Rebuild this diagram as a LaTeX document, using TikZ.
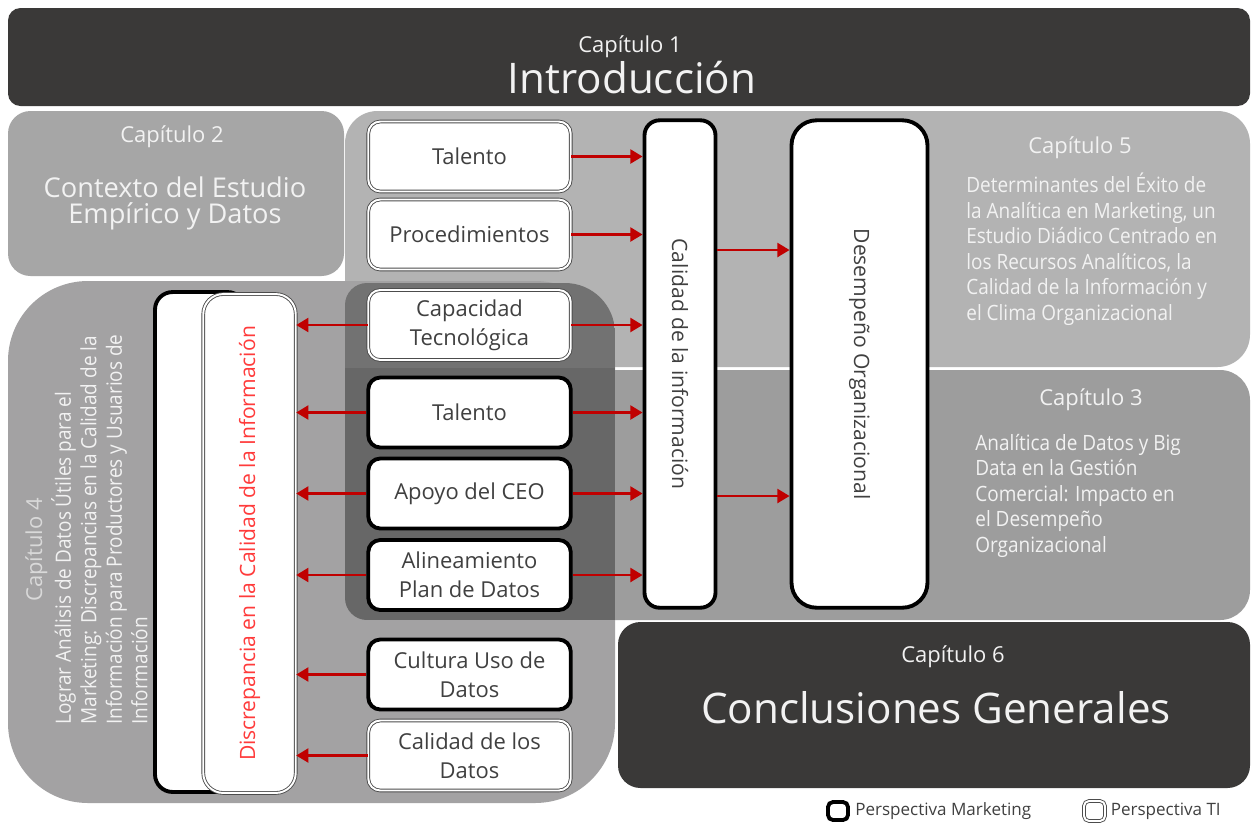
\documentclass[tikz,border=0pt]{standalone}
\usepackage{fontspec}
\setmainfont{Open Sans}
\newfontfamily\estrecha[FakeStretch=0.9]{Open Sans}
\usepackage{tikz}
\usetikzlibrary{arrows,arrows.meta,shapes,positioning}
\definecolor{oscuro}{HTML}{3A3938}
\definecolor{gris2}{HTML}{A6A6A6}
\definecolor{gris3}{HTML}{9D9D9D}
\definecolor{gris4}{HTML}{A3A2A3}
\definecolor{gris5}{HTML}{B3B3B3}
\definecolor{cruce5}{HTML}{727272}
\definecolor{cruce3}{HTML}{676767}
\definecolor{rojo}{HTML}{C00000}
\definecolor{rojotxt}{HTML}{FF3B3B}
\definecolor{textobox}{HTML}{404040}
\definecolor{claro}{HTML}{F2F2F2}
\definecolor{claro4}{HTML}{D9D9D9}

\begin{document}
\begin{tikzpicture}[x=0.02cm,y=-0.02cm]
                \tikzstyle{every node}+=[inner sep=0pt]
                \tikzstyle{caja}=[rectangle, rounded corners=0.24cm, fill=white, minimum width=4.05cm, minimum height=1.4cm, align=center, text=textobox, font=\fontsize{12.5}{16.5}\selectfont]
                \tikzstyle{ti}=[draw=black!70, line width=0.5pt, double=white, double distance=1.1pt]
                \tikzstyle{mkt}=[draw=black, line width=2.2pt]
                \tikzstyle{flecha}=[draw=rojo, line width=1.4pt, -{Triangle[length=7pt,width=8pt]}]
                \tikzstyle{capitulo}=[text=claro, font=\fontsize{12.5}{15}\selectfont]
                \tikzstyle{titulo}=[text=claro, font=\fontsize{24}{28}\selectfont]
                \tikzstyle{resumen}=[text=claro, align=left, font=\estrecha\fontsize{12}{14.5}\selectfont]
                \tikzstyle{vertical}=[text=textobox, font=\fontsize{12}{14}\selectfont]
                \tikzstyle{leyenda}=[text=textobox, font=\fontsize{9.7}{12}\selectfont]
                \useasboundingbox (0,0) rectangle (1252,823);
                \fill [white] (0,0) rectangle (1252,823);
                \fill [gris5, rounded corners=0.65cm] (345,111) rectangle (1250,367);
                \fill [gris3, rounded corners=0.6cm] (345,370) rectangle (1250,620);
                \fill [gris4, rounded corners=1.6cm] (8,281) rectangle (615,803);
                \begin{scope}
                \clip [rounded corners=0.44cm] (345,283) rectangle (700,620);
                \clip [rounded corners=1cm] (300,283) rectangle (615,700);
                \fill [cruce5] (345,283) rectangle (615,368);
                \fill [cruce3] (345,368) rectangle (615,620);
                \end{scope}
                \fill [oscuro, rounded corners=0.25cm] (8,8) rectangle (1250,106);
                \fill [gris2, rounded corners=0.45cm] (8,111) rectangle (344,276);
                \fill [oscuro, rounded corners=0.45cm] (618,622) rectangle (1250,788);
                \node [capitulo, anchor=base] (c1) at (630,52) {Capítulo 1};
                \node [titulo, anchor=base] (intro) at (632,93) {Introducción};
                \node [capitulo, anchor=base] (c2) at (172,142) {Capítulo 2};
                \node [text=claro, align=center, font=\fontsize{15.5}{14.8}\selectfont, anchor=base] (contexto) at (175,223) {Contexto del Estudio\\Empírico y Datos};
                \node [capitulo, anchor=base] (c5) at (1080,153) {Capítulo 5};
                \node [resumen, anchor=north west] (det) at (966,173) {Determinantes del Éxito de\\la Analítica en Marketing, un\\Estudio Diádico Centrado en\\los Recursos Analíticos, la\\Calidad de la Información y\\el Clima Organizacional};
                \node [capitulo, anchor=base] (c3) at (1091,405) {Capítulo 3};
                \node [resumen, anchor=north west] (analit) at (975,434) {Analítica de Datos y Big\\Data en la Gestión\\Comercial: Impacto en\\el Desempeño\\Organizacional};
                \node [capitulo, anchor=base] (c6) at (953,662) {Capítulo 6};
                \node [titulo, anchor=base] (concl) at (936,723) {Conclusiones Generales};
                \node [capitulo, text=claro4, rotate=90, anchor=base] (c4) at (42,550) {Capítulo 4};
                \node [resumen, rotate=90, anchor=north west] (lograr) at (51,725) {Lograr Análisis de Datos Útiles para el\\Marketing: Discrepancias en la Calidad de la\\Información para Productores y Usuarios de\\Información};
                \node [caja, ti] (tal1) at (469.5,156.5) {Talento};
                \node [caja, ti] (proc) at (469.5,234.5) {Procedimientos};
                \node [caja, ti] (capac) at (469.5,325) {Capacidad\\Tecnológica};
                \node [caja, mkt] (tal2) at (469.5,412.5) {Talento};
                \node [caja, mkt] (apoyo) at (469.5,493.5) {Apoyo del CEO};
                \node [caja, mkt] (alin) at (469.5,575) {Alineamiento\\Plan de Datos};
                \node [caja, mkt] (cultura) at (469.5,674.5) {Cultura Uso de\\Datos};
                \node [caja, ti] (caldat) at (469.5,755.5) {Calidad de los\\Datos};
                \node [mkt, fill=white, rounded corners=0.35cm, minimum width=1.8cm, minimum height=10cm] (discrmkt) at (200,542) {};
                \node [ti, fill=white, rounded corners=0.4cm, minimum width=1.85cm, minimum height=9.98cm] (discr) at (249.5,543.5) {};
                \node [vertical, text=rojotxt, rotate=90] (discrtxt) at (discr) {Discrepancia en la Calidad de la Información};
                \node [mkt, fill=white, rounded corners=0.3cm, minimum width=1.42cm, minimum height=9.75cm] (calinf) at (680,364) {};
                \node [vertical, rotate=-90] (calinftxt) at (calinf) {Calidad de la información};
                \node [mkt, fill=white, rounded corners=0.5cm, minimum width=2.72cm, minimum height=9.75cm] (desemp) at (859.5,364) {};
                \node [vertical, rotate=-90] (desemptxt) at (desemp) {Desempeño Organizacional};
                \coordinate (u1) at (0,250);
                \coordinate (u2) at (0,496);
                \foreach \desde in {tal1,proc,capac,tal2,apoyo,alin}
                    \draw [flecha] (\desde.east) -- (\desde.east -| calinf.west);
                \foreach \desde in {capac,tal2,apoyo,alin,cultura,caldat}
                    \draw [flecha] (\desde.west) -- (\desde.west -| discr.east);
                \draw [flecha] (calinf.east |- u1) -- (desemp.west |- u1);
                \draw [flecha] (calinf.east |- u2) -- (desemp.west |- u2);
                \node [mkt, rounded corners=0.1cm, minimum width=0.4cm, minimum height=0.36cm] (leymkt) at (838,811) {};
                \node [leyenda, right=0.1cm of leymkt] (leymkttxt) {Perspectiva Marketing};
                \node [ti, rounded corners=0.1cm, minimum width=0.42cm, minimum height=0.4cm] (leyti) at (1094.5,811) {};
                \node [leyenda, right=0.1cm of leyti] (leytitxt) {Perspectiva TI};
\end{tikzpicture}
\end{document}
